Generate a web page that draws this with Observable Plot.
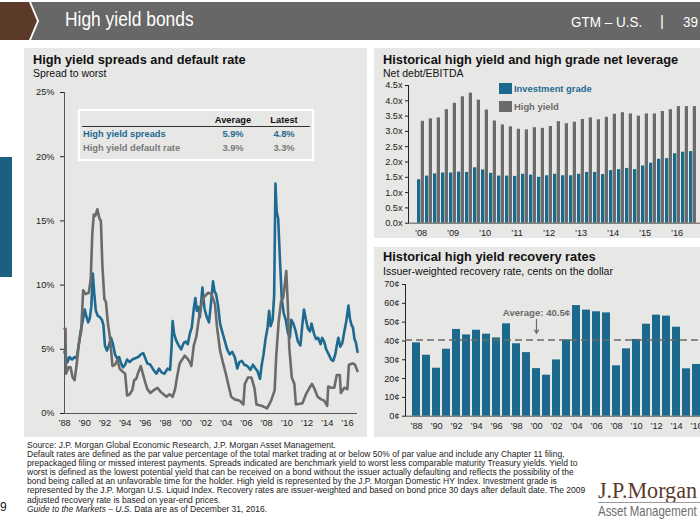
<!DOCTYPE html>
<html><head><meta charset="utf-8">
<script src="https://cdn.jsdelivr.net/npm/d3@7"></script>
<script src="https://cdn.jsdelivr.net/npm/@observablehq/plot@0.6"></script>
<style>
html,body{margin:0;padding:0;}
body{width:700px;height:525px;overflow:hidden;position:relative;background:#fff;font-family:"Liberation Sans",Arial,sans-serif;color:#111;}
svg{max-width:none !important;}
.abs{position:absolute;white-space:nowrap;}
.panel{position:absolute;background:#e7e7e5;}
.ttl{position:absolute;font-weight:bold;font-size:12.8px;color:#111;white-space:nowrap;}
.sub{position:absolute;font-size:10.5px;color:#111;white-space:nowrap;}
.cond{transform-origin:0 0;}
.tb{position:absolute;font-weight:bold;font-size:9.3px;white-space:nowrap;}
</style></head><body>

<!-- header -->
<div class="abs" style="left:0;top:2px;width:38px;height:38px;background:#5b3a2a;clip-path:polygon(0 0,29px 0,37px 19px,29px 38px,0 38px)"></div>
<div class="abs" style="left:31px;top:2px;width:669px;height:38px;background:#676767;clip-path:polygon(0 0,669px 0,669px 38px,0 38px,8px 19px)"></div>
<div class="abs cond" style="left:65px;top:8px;font-size:20px;color:#fff;transform:scaleX(0.87);">High yield bonds</div>
<div class="abs cond" style="left:571px;top:13px;font-size:15px;color:#fff;transform:scaleX(0.9);">GTM – U.S.</div>
<div class="abs" style="left:660px;top:12px;font-size:15px;color:#fff;">|</div>
<div class="abs cond" style="left:683px;top:13px;font-size:15px;color:#fff;transform:scaleX(0.9);">39</div>

<!-- left side marker -->
<div class="abs" style="left:0;top:157px;width:12px;height:120px;background:#1b5f82"></div>

<!-- panels -->
<div class="panel" style="left:24px;top:48px;width:343px;height:389px"></div>
<div class="panel" style="left:374px;top:48px;width:330px;height:190px"></div>
<div class="panel" style="left:374px;top:247px;width:330px;height:190px"></div>

<div class="ttl" style="left:33px;top:52px;">High yield spreads and default rate</div>
<div class="sub" style="left:33px;top:67px;">Spread to worst</div>
<div class="ttl" style="left:383px;top:52px;">Historical high yield and high grade net leverage</div>
<div class="sub" style="left:383px;top:67px;">Net debt/EBITDA</div>
<div class="ttl" style="left:383px;top:249px;">Historical high yield recovery rates</div>
<div class="sub" style="left:383px;top:265px;">Issuer-weighted recovery rate, cents on the dollar</div>

<div id="c1" class="abs" style="left:20px;top:80px;width:350px;height:352px;"></div>
<div id="c2" class="abs" style="left:370px;top:78px;width:345px;height:165px;"></div>
<div id="c3" class="abs" style="left:370px;top:278px;width:345px;height:155px;"></div>

<!-- stats table -->
<div class="abs" style="left:78px;top:109px;width:232px;height:48px;border:2px solid #fff;"></div>
<div class="abs" style="left:82px;top:126px;width:228px;height:1px;background:#333;"></div>
<div class="tb" style="left:213px;top:115px;width:40px;text-align:center;color:#111;">Average</div>
<div class="tb" style="left:264px;top:115px;width:40px;text-align:center;color:#111;">Latest</div>
<div class="tb" style="left:83px;top:129px;color:#1f6a91;">High yield spreads</div>
<div class="tb" style="left:213px;top:129px;width:40px;text-align:center;color:#1f6a91;">5.9%</div>
<div class="tb" style="left:264px;top:129px;width:40px;text-align:center;color:#1f6a91;">4.8%</div>
<div class="tb" style="left:83px;top:143px;color:#7a7a7a;">High yield default rate</div>
<div class="tb" style="left:213px;top:143px;width:40px;text-align:center;color:#7a7a7a;">3.9%</div>
<div class="tb" style="left:264px;top:143px;width:40px;text-align:center;color:#7a7a7a;">3.3%</div>

<!-- leverage legend -->
<div class="abs" style="left:499px;top:83px;width:13px;height:11px;background:#1b6a8e"></div>
<div class="tb" style="left:514px;top:83px;font-size:9.4px;color:#1f6a91;">Investment grade</div>
<div class="abs" style="left:499px;top:101px;width:13px;height:11px;background:#6b6b6b"></div>
<div class="tb" style="left:514px;top:101px;font-size:9.4px;color:#6b6b6b;">High yield</div>

<!-- footnote -->
<div class="abs" style="left:27px;top:441px;font-size:8.5px;line-height:9.1px;color:#222;white-space:pre;">Source: J.P. Morgan Global Economic Research, J.P. Morgan Asset Management.
Default rates are defined as the par value percentage of the total market trading at or below 50% of par value and include any Chapter 11 filing,
prepackaged filing or missed interest payments. Spreads indicated are benchmark yield to worst less comparable maturity Treasury yields. Yield to
worst is defined as the lowest potential yield that can be received on a bond without the issuer actually defaulting and reflects the possibility of the
bond being called at an unfavorable time for the holder. High yield is represented by the J.P. Morgan Domestic HY Index. Investment grade is
represented by the J.P. Morgan U.S. Liquid Index. Recovery rates are issuer-weighted and based on bond price 30 days after default date. The 2009
adjusted recovery rate is based on year-end prices.
<i>Guide to the Markets – U.S.</i> Data are as of December 31, 2016.</div>

<div class="abs" style="left:0px;top:500px;font-size:12px;color:#111;">9</div>

<!-- logo -->
<div class="abs cond" style="left:598px;top:477px;font-family:'Liberation Serif','DejaVu Serif',serif;font-size:24px;color:#5b3a2a;transform:scaleX(0.92);">J.P.Morgan</div>
<div class="abs" style="left:598px;top:502px;width:102px;height:1px;background:#999"></div>
<div class="abs cond" style="left:598px;top:503px;font-size:14.5px;color:#6d6d6d;transform:scaleX(0.79);">Asset Management</div>

<script>
// ---------- High yield spreads and default rate ----------
const spreadDates = [1988.0,1988.15,1988.3,1988.5,1988.75,1989.0,1989.2,1989.4,1989.6,1989.8,1990.0,1990.15,1990.35,1990.5,1990.65,1990.8,1990.95,1991.1,1991.3,1991.5,1991.7,1991.85,1992.0,1992.2,1992.4,1992.6,1992.8,1993.0,1993.2,1993.4,1993.6,1993.8,1994.0,1994.2,1994.45,1994.7,1995.0,1995.3,1995.55,1995.8,1996.0,1996.2,1996.5,1996.8,1997.1,1997.35,1997.6,1997.9,1998.2,1998.45,1998.6,1998.7,1998.85,1999.05,1999.3,1999.55,1999.8,2000.0,2000.2,2000.4,2000.6,2000.8,2000.95,2001.1,2001.25,2001.4,2001.65,2001.85,2002.05,2002.3,2002.5,2002.7,2002.85,2003.0,2003.2,2003.4,2003.6,2003.85,2004.1,2004.35,2004.6,2004.85,2005.1,2005.3,2005.55,2005.8,2006.1,2006.4,2006.65,2006.9,2007.1,2007.35,2007.5,2007.7,2007.9,2008.1,2008.25,2008.4,2008.6,2008.75,2008.88,2009.0,2009.15,2009.3,2009.5,2009.7,2009.9,2010.1,2010.3,2010.45,2010.65,2010.85,2011.1,2011.35,2011.55,2011.7,2011.9,2012.1,2012.3,2012.45,2012.7,2012.9,2013.1,2013.35,2013.5,2013.7,2013.9,2014.15,2014.4,2014.6,2014.8,2014.95,2015.1,2015.3,2015.5,2015.7,2015.85,2016.0,2016.1,2016.25,2016.4,2016.55,2016.7,2016.85,2017.0];
const spreadValues = [4.8,4.4,4.0,4.4,4.2,4.4,4.3,5.3,6.4,7.2,8.1,7.6,7.1,7.4,8.3,10.9,9.3,8.0,7.6,7.5,7.3,6.9,5.3,4.9,5.3,5.9,5.4,4.6,4.3,4.4,3.9,3.6,3.8,4.2,4.0,4.2,4.3,4.4,4.6,4.7,4.3,3.9,3.8,3.4,3.1,3.5,3.2,3.1,3.5,3.4,5.2,7.2,6.2,5.7,5.3,5.0,5.5,5.6,5.4,6.2,6.7,8.2,9.0,8.0,8.3,7.5,9.8,8.2,7.6,7.1,8.6,10.3,9.5,9.3,8.4,7.0,6.4,5.7,5.0,4.6,4.8,4.4,3.5,4.0,4.1,3.8,3.7,3.4,3.8,3.5,3.3,2.7,3.7,4.6,5.8,6.7,8.0,6.8,7.3,9.2,17.9,15.7,15.2,12.4,9.0,7.8,7.3,6.3,5.9,7.3,7.0,6.5,5.6,5.3,7.0,8.1,7.3,6.6,6.4,7.0,6.2,5.8,5.9,5.4,5.9,5.6,5.0,4.6,4.2,4.1,4.6,5.3,5.9,5.2,5.5,6.4,7.0,7.8,8.4,7.4,6.9,6.7,5.8,5.5,4.8];
const defaultDates = [1988.0,1988.1,1988.15,1988.4,1988.6,1988.8,1989.0,1989.2,1989.45,1989.65,1989.85,1990.1,1990.4,1990.6,1990.75,1990.9,1991.05,1991.25,1991.45,1991.6,1991.75,1991.95,1992.1,1992.3,1992.5,1992.75,1993.0,1993.25,1993.45,1993.7,1994.0,1994.2,1994.45,1994.7,1994.9,1995.1,1995.3,1995.55,1995.75,1996.0,1996.2,1996.5,1996.8,1997.2,1997.5,1997.8,1998.1,1998.4,1998.7,1998.95,1999.15,1999.4,1999.65,1999.9,2000.15,2000.4,2000.55,2000.8,2001.05,2001.3,2001.55,2001.75,2002.2,2002.55,2002.9,2003.1,2003.4,2003.7,2004.0,2004.2,2004.5,2004.85,2005.35,2005.7,2005.85,2006.15,2006.5,2006.8,2007.0,2007.5,2007.8,2008.05,2008.45,2008.8,2008.95,2009.2,2009.45,2009.65,2009.95,2010.1,2010.25,2010.5,2010.75,2010.9,2011.55,2011.9,2012.25,2012.5,2012.7,2013.05,2013.4,2013.7,2014.0,2014.1,2014.4,2014.7,2014.95,2015.25,2015.35,2015.7,2016.0,2016.15,2016.5,2016.75,2017.0];
const defaultValues = [6.6,6.6,3.1,3.6,3.6,2.8,2.6,3.8,5.6,6.4,9.6,9.3,9.4,10.5,14.0,15.5,15.4,15.9,15.2,15.0,11.5,8.9,8.7,7.0,5.9,3.7,3.8,4.2,3.5,3.3,3.1,1.4,1.5,1.8,2.6,2.7,3.2,3.7,3.1,2.4,1.9,1.6,1.8,2.0,1.7,1.5,1.3,1.5,1.3,1.9,2.9,3.9,4.2,4.5,4.3,4.0,3.7,5.3,6.0,7.4,8.5,9.0,9.4,9.3,8.5,6.7,4.9,3.9,3.0,2.3,1.3,1.1,1.0,0.7,2.3,2.8,2.8,2.0,0.7,0.6,0.5,0.4,1.0,1.8,4.4,7.2,8.8,9.0,11.1,8.5,5.1,2.8,2.3,0.7,0.8,1.5,2.0,2.3,2.0,1.3,1.1,1.0,0.6,2.1,2.0,2.0,3.0,3.0,1.6,2.0,1.9,3.8,3.9,3.8,3.3];
const spreadYTicks = [0,5,10,15,20,25];
const spreadXTicks = [1988,1990,1992,1994,1996,1998,2000,2002,2004,2006,2008,2010,2012,2014,2016];

// ---------- Net leverage (quarterly) ----------
const quarters = ["1Q08","2Q08","3Q08","4Q08","1Q09","2Q09","3Q09","4Q09","1Q10","2Q10","3Q10","4Q10","1Q11","2Q11","3Q11","4Q11","1Q12","2Q12","3Q12","4Q12","1Q13","2Q13","3Q13","4Q13","1Q14","2Q14","3Q14","4Q14","1Q15","2Q15","3Q15","4Q15","1Q16","2Q16","3Q16"];
const igLeverage = [1.42,1.54,1.61,1.64,1.64,1.67,1.66,1.81,1.74,1.63,1.54,1.54,1.53,1.60,1.57,1.50,1.55,1.60,1.55,1.55,1.60,1.66,1.66,1.59,1.72,1.75,1.79,1.75,1.87,1.96,2.09,2.11,2.27,2.32,2.34];
const hyLeverage = [3.33,3.41,3.44,3.71,3.92,4.13,4.25,4.02,3.70,3.34,3.21,3.15,3.07,3.05,3.12,3.10,3.16,3.32,3.25,3.30,3.39,3.44,3.38,3.46,3.56,3.61,3.57,3.50,3.57,3.57,3.65,3.71,3.81,3.81,3.81];
const leverageTicks = [0,0.5,1,1.5,2,2.5,3,3.5,4,4.5];

// ---------- Recovery rates ----------
const recoveryYears = ["1988","1989","1990","1991","1992","1993","1994","1995","1996","1997","1998","1999","2000","2001","2002","2003","2004","2005","2006","2007","2008","2009","2010","2011","2012","2013","2014","2015","2016"];
const recoveryRates = [39.0,32.4,25.5,35.6,46.1,43.2,45.7,43.6,41.6,49.1,38.5,33.8,25.3,21.8,29.9,40.6,58.8,56.4,55.5,54.9,26.8,35.8,40.8,48.9,53.7,53.2,47.3,25.2,27.5];
const recoveryAverage = 40.5;
const recoveryAverageLabel = "Average: 40.5¢";
const recoveryTicks = [0,10,20,30,40,50,60,70];

const BLUE = "#1f6a91", BAR_BLUE = "#1b6a8e", GRAY = "#6b6b6b";
const font = "Liberation Sans, Arial, sans-serif";

const spreadRows = spreadDates.map((d, i) => ({date: d, value: spreadValues[i]}));
const defaultRows = defaultDates.map((d, i) => ({date: d, value: defaultValues[i]}));

const c1 = Plot.plot({
  width: 350, height: 352,
  marginLeft: 44, marginRight: 13, marginTop: 12, marginBottom: 19,
  style: {background: "transparent", fontFamily: font, fontSize: "9.2px", color: "#222"},
  x: {domain: [1988, 2017], ticks: spreadXTicks, tickFormat: d => "’" + String(d).slice(2), tickSize: 0, tickPadding: 6, label: null},
  y: {domain: [0, 25], ticks: spreadYTicks, tickFormat: d => d + "%", tickSize: 4, tickPadding: 6, label: null},
  marks: [
    Plot.ruleX([1988], {stroke: "#555"}),
    Plot.ruleY([0], {stroke: "#555"}),
    Plot.line(spreadRows, {x: "date", y: "value", stroke: BLUE, strokeWidth: 2.6}),
    Plot.line(defaultRows, {x: "date", y: "value", stroke: GRAY, strokeWidth: 2.6})
  ]
});
document.getElementById("c1").append(c1);

const levRows = quarters.map((q, i) => ({q, ig: igLeverage[i], hy: hyLeverage[i]}));
const c2 = Plot.plot({
  width: 345, height: 165,
  marginLeft: 38, marginRight: 9.5, marginTop: 7, marginBottom: 20.3,
  style: {background: "transparent", fontFamily: font, fontSize: "9.2px", color: "#222"},
  x: {domain: quarters, paddingInner: 0.12, paddingOuter: 0.06, tickFormat: q => q.startsWith("1Q") ? "’" + q.slice(2) : "", tickSize: 0, tickPadding: 6, label: null},
  y: {domain: [0, 4.5], ticks: leverageTicks, tickFormat: d => d.toFixed(1) + "x", tickSize: 3, tickPadding: 3, label: null, line: true},
  marks: [
    Plot.barY(levRows, {x: "q", y: "hy", fill: GRAY, insetLeft: 3.74}),
    Plot.barY(levRows, {x: "q", y: "ig", fill: BAR_BLUE, insetRight: 3.74}),
    Plot.ruleY([0], {stroke: "#555"})
  ]
});
document.getElementById("c2").append(c2);

const recRows = recoveryYears.map((y, i) => ({year: y, rate: recoveryRates[i]}));
const c3 = Plot.plot({
  width: 345, height: 155,
  marginLeft: 35, marginRight: 7.5, marginTop: 6, marginBottom: 17.3,
  style: {background: "transparent", fontFamily: font, fontSize: "9.2px", color: "#222"},
  x: {domain: recoveryYears, paddingInner: 0.24, paddingOuter: 0.12, tickFormat: y => (+y) % 2 === 0 ? "’" + y.slice(2) : "", tickSize: 0, tickPadding: 6, label: null},
  y: {domain: [0, 70], ticks: recoveryTicks, tickFormat: d => d + "¢", tickSize: 3, tickPadding: 3, label: null, line: true},
  marks: [
    Plot.barY(recRows, {x: "year", y: "rate", fill: BAR_BLUE}),
    Plot.ruleY([recoveryAverage], {stroke: GRAY, strokeWidth: 1.6, strokeDasharray: "7,4"}),
    Plot.text([{year: "2000", y: 54.8, label: recoveryAverageLabel}], {x: "year", y: "y", text: "label", fill: GRAY, fontWeight: "bold", fontSize: 9.6}),
    Plot.arrow([{year: "2000", y1: 51.5, y2: 44}], {x1: "year", x2: "year", y1: "y1", y2: "y2", stroke: GRAY, strokeWidth: 1.2, headLength: 5}),
    Plot.ruleY([0], {stroke: "#555"})
  ]
});
document.getElementById("c3").append(c3);
</script>
</body></html>
